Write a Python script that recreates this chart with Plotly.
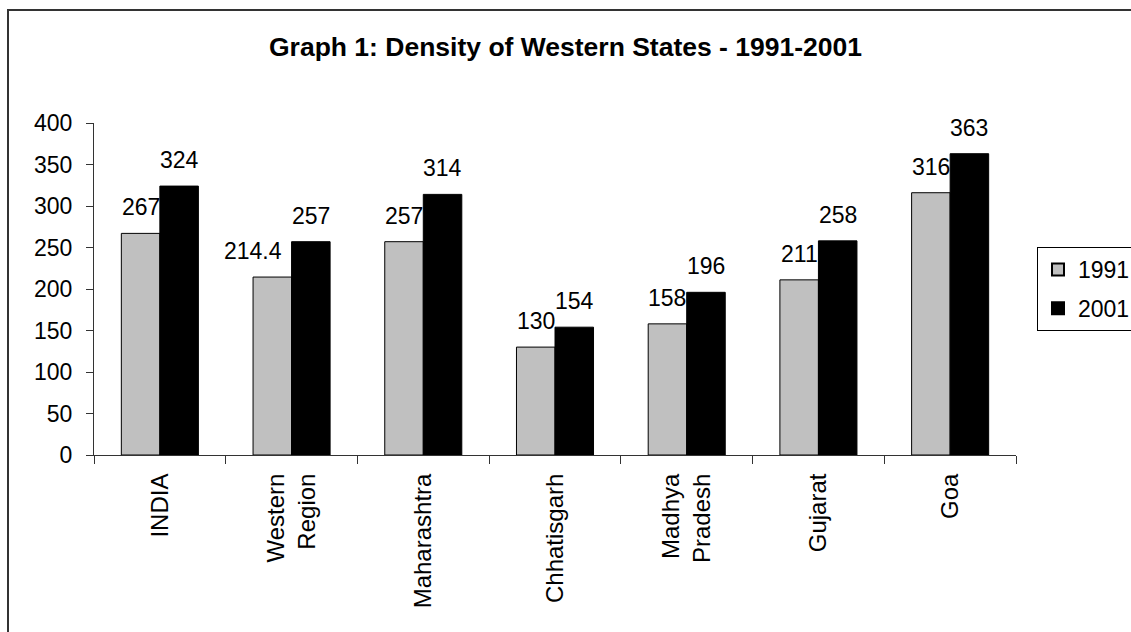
import plotly.graph_objects as go

categories = ["INDIA", "Western<br>Region", "Maharashtra", "Chhatisgarh",
              "Madhya<br>Pradesh", "Gujarat", "Goa"]
vals_1991 = [267, 214.4, 257, 130, 158, 211, 316]
vals_2001 = [324, 257, 314, 154, 196, 258, 363]
labels_1991 = ["267", "214.4", "257", "130", "158", "211", "316"]
labels_2001 = ["324", "257", "314", "154", "196", "258", "363"]
y_ticks = [0, 50, 100, 150, 200, 250, 300, 350, 400]

FONT = "Liberation Sans, Arial, sans-serif"
BARGAP = 0.415
TICK_SIZE = 23

fig = go.Figure()
fig.add_trace(go.Bar(x=categories, y=vals_1991, name="1991", legendgroup="a",
                     marker=dict(color="#C0C0C0", line=dict(color="#000000", width=1))))
fig.add_trace(go.Bar(x=categories, y=vals_2001, name="2001", legendgroup="b",
                     marker=dict(color="#000000", line=dict(color="#000000", width=1))))

half = (1 - BARGAP) / 4.0
annotations = []
for i in range(len(categories)):
    for off, v, t in ((-half, vals_1991[i], labels_1991[i]), (half, vals_2001[i], labels_2001[i])):
        ann = dict(x=i + off, y=v, xref="x", yref="y", text=t,
                   showarrow=False, yanchor="middle", yshift=26,
                   font=dict(family=FONT, size=TICK_SIZE, color="#000"))
        if off < 0 and len(t) > 3:
            # wide label: keep it clear of the neighbouring bar, as the original does
            ann.update(x=i, xanchor="right", xshift=-8)
        annotations.append(ann)

fig.update_layout(
    width=1131, height=632,
    margin=dict(l=94, r=115, t=123, b=177, autoexpand=False),
    paper_bgcolor="white", plot_bgcolor="white",
    barmode="group", bargap=BARGAP, bargroupgap=0,
    font=dict(family=FONT, size=TICK_SIZE, color="#000"),
    title=dict(text="<b>Graph 1: Density of Western States - 1991-2001</b>",
               x=0.5, xanchor="center", y=1 - 47 / 632, yanchor="middle",
               font=dict(family=FONT, size=26.5, color="#000")),
    showlegend=True,
    legend=dict(x=(1037 - 94) / 922, xanchor="left", y=(455 - 247) / 332, yanchor="top",
                bordercolor="#000", borderwidth=1, bgcolor="white",
                font=dict(family=FONT, size=TICK_SIZE, color="#000"),
                traceorder="grouped", tracegroupgap=6,
                itemsizing="constant"),
    annotations=annotations,
    shapes=[dict(type="rect", xref="paper", yref="paper",
                 x0=(8 - 94) / 922, x1=1.3, y0=-0.8, y1=(455 - 10) / 332,
                 line=dict(color="#333", width=2), fillcolor="rgba(0,0,0,0)", layer="below")],
)
fig.update_xaxes(type="category", showline=True, linecolor="#333", linewidth=1,
                 ticks="outside", ticklen=8, tickcolor="#333", tickson="boundaries",
                 tickangle=-90, showgrid=False, zeroline=False, ticklabelstandoff=8,
                 tickfont=dict(family=FONT, size=24, color="#000"))
fig.update_yaxes(range=[0, 400], tickvals=y_ticks, showline=True, linecolor="#333", linewidth=1,
                 ticks="outside", ticklen=7, tickcolor="#333", showgrid=False, zeroline=False,
                 ticklabelstandoff=9,
                 tickfont=dict(family=FONT, size=TICK_SIZE, color="#000"))

fig.write_html("out.html", config={"displayModeBar": False},
               post_script="document.body.style.margin='0';document.body.style.overflow='hidden';")
